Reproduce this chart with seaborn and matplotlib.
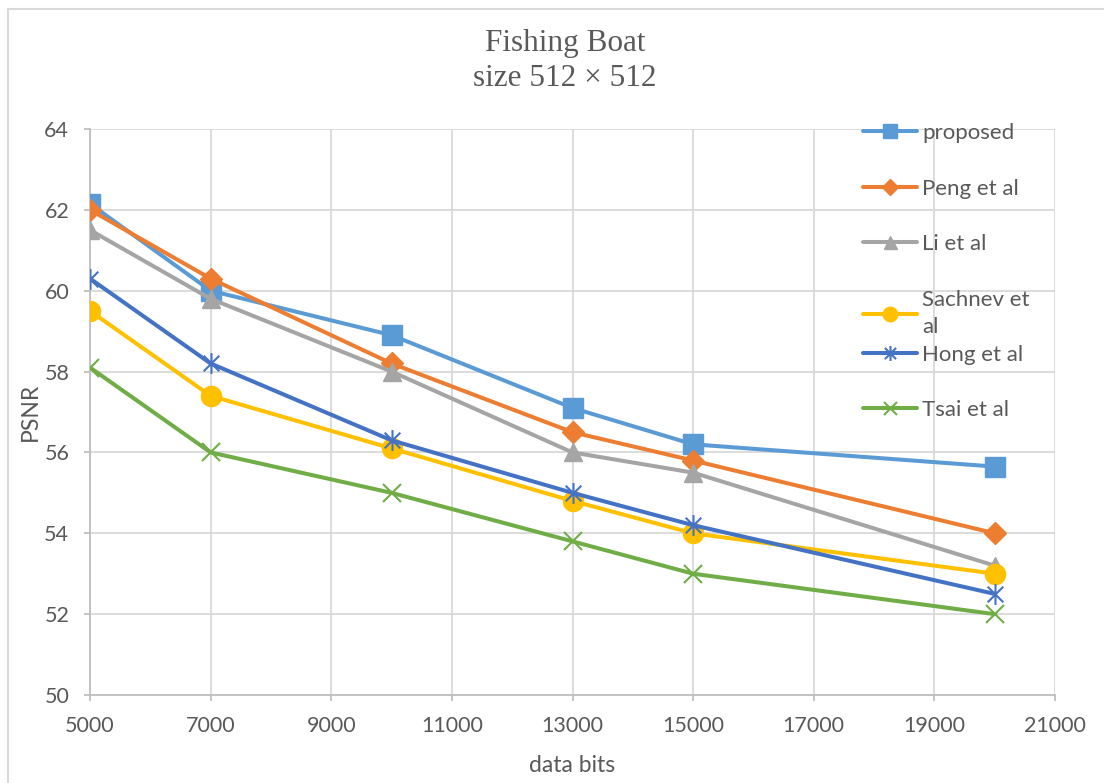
import numpy as np
import pandas as pd
import matplotlib
matplotlib.use("Agg")
import matplotlib.pyplot as plt
from matplotlib.path import Path
from matplotlib.legend import Legend
from matplotlib.patches import Rectangle
import seaborn as sns

# Embedding capacity (bits) and the PSNR each method reaches
data_bits = [5000, 7000, 10000, 13000, 15000, 20000]
proposed = [62.15, 60.0, 58.9, 57.1, 56.2, 55.65]
peng = [62.0, 60.3, 58.2, 56.5, 55.8, 54.0]
li = [61.5, 59.8, 58.0, 56.0, 55.5, 53.2]
sachnev = [59.5, 57.4, 56.1, 54.8, 54.0, 53.0]
hong = [60.3, 58.2, 56.3, 55.0, 54.2, 52.5]
tsai = [58.1, 56.0, 55.0, 53.8, 53.0, 52.0]

series_names = ["proposed", "Peng et al", "Li et al", "Sachnev et\nal", "Hong et al", "Tsai et al"]
series_values = [proposed, peng, li, sachnev, hong, tsai]

x_ticks = [5000, 7000, 9000, 11000, 13000, 15000, 17000, 19000, 21000]
y_ticks = [50, 52, 54, 56, 58, 60, 62, 64]

sns.set_theme(style="white")
plt.rcParams["font.family"] = ["Lato", "DejaVu Sans"]

text_color = "#595959"
grid_color = "#D9D9D9"
axis_color = "#BFBFBF"

# six-armed asterisk: one vertical stroke plus an X
asterisk = Path(
    [(0, -1), (0, 1), (-0.75, -0.75), (0.75, 0.75), (-0.75, 0.75), (0.75, -0.75)],
    [Path.MOVETO, Path.LINETO, Path.MOVETO, Path.LINETO, Path.MOVETO, Path.LINETO],
)

styles = [
    dict(color="#5B9BD5", marker="s", ms=14, mew=1),
    dict(color="#ED7D31", marker="D", ms=11, mew=1),
    dict(color="#A5A5A5", marker="^", ms=13, mew=1),
    dict(color="#FFC000", marker="o", ms=14.5, mew=1),
    dict(color="#4472C4", marker=asterisk, ms=15, mfc="none", mew=1.5),
    dict(color="#70AD47", marker="x", ms=13, mew=1.5),
]

fig = plt.figure(figsize=(11.04, 7.83), dpi=100)
ax = fig.add_axes([90 / 1104, 1 - 695 / 783, 965 / 1104, 566 / 783])

df = pd.DataFrame({"bits": data_bits})
for name, vals, st in zip(series_names, series_values, styles):
    df[name] = vals
    sns.lineplot(data=df, x="bits", y=name, ax=ax, label=name, legend=False,
                 linewidth=2.9, zorder=3, mec=st["color"], **st)

ax.set_xlim(5000, 21000)
ax.set_ylim(50, 64)
ax.set_xticks(x_ticks)
ax.set_yticks(y_ticks)
ax.grid(True, color=grid_color, linewidth=1.3)
ax.set_axisbelow(True)
for side in ("top", "right"):
    ax.spines[side].set_visible(False)
for side in ("left", "bottom"):
    ax.spines[side].set_color(axis_color)
    ax.spines[side].set_linewidth(1.3)
ax.tick_params(axis="both", which="major", direction="out", length=4, width=1.3,
               color=axis_color, labelsize=15.5, labelcolor=text_color, pad=11,
               left=True, bottom=True)

ax.set_xlabel("data bits", fontsize=16.5, color=text_color, va="center")
ax.set_ylabel("PSNR", fontsize=16.5, color=text_color, va="center", ha="center")
ax.xaxis.set_label_coords(0.5, (695 - 765) / 566)
ax.yaxis.set_label_coords((30 - 90) / 965, 0.5)

fig.text(565 / 1104, 1 - 44 / 783, "Fishing Boat", ha="center", va="center",
         fontsize=22.5, color=text_color, family="Liberation Serif")
fig.text(565 / 1104, 1 - 79 / 783, "size 512 \u00d7 512", ha="center", va="center",
         fontsize=22.5, color=text_color, family="Liberation Serif")

# legend: one row per method stacked down the right side of the plot
handles, labels = ax.get_legend_handles_labels()
row_px = [133, 189, 244, 313.5, 355, 410]
for h, lab, ypx in zip(handles, labels, row_px):
    leg = Legend(ax, [h], [lab], loc="center left",
                 bbox_to_anchor=((863 - 90) / 965, (695 - ypx) / 566),
                 frameon=False, borderpad=0, borderaxespad=0,
                 handlelength=2.45, handletextpad=0.22, markerscale=0.72,
                 fontsize=16, labelcolor=text_color)
    for t in leg.get_texts():
        t.set_linespacing(1.45)
    ax.add_artist(leg)

# chart-area outline
fig.patches.append(Rectangle((8 / 1104, -0.05), 1.2, 1 - 9 / 783 + 0.05,
                             transform=fig.transFigure, fill=False,
                             edgecolor=grid_color, linewidth=1.5))

fig.savefig("out.png", dpi=100, facecolor="white")
